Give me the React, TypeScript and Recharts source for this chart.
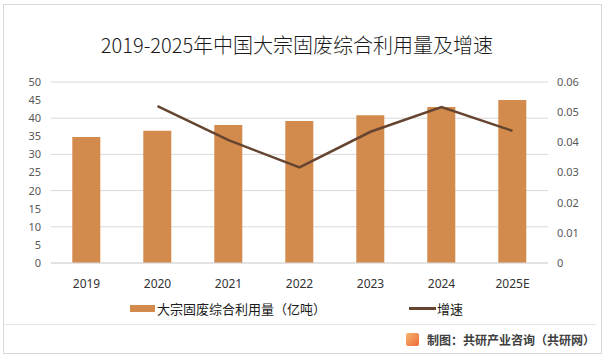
import React from 'react';
import { ComposedChart, Bar, Line, XAxis, YAxis, CartesianGrid } from 'recharts';

const years = ['2019', '2020', '2021', '2022', '2023', '2024', '2025E'];
const volume = [34.8, 36.5, 38.1, 39.2, 40.8, 43.1, 45.0];
const growth: (number | null)[] = [null, 0.052, 0.0407, 0.0317, 0.0435, 0.0517, 0.0438];
const leftTicks = [0, 5, 10, 15, 20, 25, 30, 35, 40, 45, 50];
const rightTicks = [0, 0.01, 0.02, 0.03, 0.04, 0.05, 0.06];

const title = '2019-2025年中国大宗固废综合利用量及增速';
const barName = '大宗固废综合利用量（亿吨）';
const lineName = '增速';
const footer = '制图：共研产业咨询（共研网）';

const data = years.map((y, i) => ({ year: y, volume: volume[i], growth: growth[i] }));

const BAR = '#D38B4D';
const LINE = '#654530';
const CJK = '"Noto Sans CJK SC", "Noto Sans", sans-serif';
const NUM = '"Noto Sans", "Liberation Sans", sans-serif';

export default function App() {
  return (
    <div style={{ position: 'absolute', left: 0, top: 0, width: 608, height: 359, background: '#fff', overflow: 'hidden' }}>
      <div style={{ position: 'absolute', left: 3, top: 4, width: 599, height: 350, border: '1px solid #d9d9d9', boxSizing: 'border-box' }} />
      <div style={{ position: 'absolute', left: 0, top: 30, width: 594, textAlign: 'center', fontFamily: CJK, fontSize: 20, color: '#1a1a1a', lineHeight: '30px', fontWeight: 300 }}>
        {title}
      </div>
      <div style={{ position: 'absolute', left: 0, top: 0 }}>
        <ComposedChart width={608} height={359} data={data} margin={{ top: 82, right: 0, bottom: 66, left: 0 }} barCategoryGap="30%">
          <CartesianGrid yAxisId="left" vertical={false} stroke="#d9d9d9" strokeWidth={1} />
          <XAxis dataKey="year" axisLine={{ stroke: '#d9d9d9' }} tickLine={false} height={30} tickMargin={10}
            tick={{ fill: '#333', fontSize: 12, fontFamily: NUM }} interval={0} />
          <YAxis yAxisId="left" domain={[0, 50]} ticks={leftTicks} width={51} axisLine={false} tickLine={false} tickMargin={4}
            tick={{ fill: '#595959', fontSize: 11, fontFamily: NUM }} />
          <YAxis yAxisId="right" orientation="right" domain={[0, 0.06]} ticks={rightTicks} width={60} axisLine={false} tickLine={false} tickMargin={3}
            tick={{ fill: '#595959', fontSize: 11, fontFamily: NUM }} />
          <Bar yAxisId="left" dataKey="volume" fill={BAR} isAnimationActive={false} />
          <Line yAxisId="right" dataKey="growth" stroke={LINE} strokeWidth={2.5} dot={false} activeDot={false} isAnimationActive={false} />
        </ComposedChart>
      </div>
      <div style={{ position: 'absolute', left: 130, top: 299, display: 'flex', alignItems: 'center', fontFamily: CJK, fontSize: 13, color: '#1a1a1a' }}>
        <span style={{ display: 'inline-block', width: 25, height: 7, background: BAR, marginRight: 2 }} />
        <span>{barName}</span>
      </div>
      <div style={{ position: 'absolute', left: 409, top: 299, display: 'flex', alignItems: 'center', fontFamily: CJK, fontSize: 13, color: '#1a1a1a' }}>
        <span style={{ display: 'inline-block', width: 27, height: 3, background: LINE, marginRight: 1 }} />
        <span>{lineName}</span>
      </div>
      <div style={{ position: 'absolute', left: 4, top: 324, width: 592, height: 1, background: '#e6e6e6' }} />
      <div style={{ position: 'absolute', left: 406, top: 331, display: 'flex', alignItems: 'center', fontFamily: CJK, fontSize: 12, fontWeight: 700, color: '#404040' }}>
        <span style={{ display: 'inline-block', width: 13, height: 13, borderRadius: 2, background: 'linear-gradient(135deg, #f8b56e, #ec6a3a)', marginRight: 8 }} />
        <span>{footer}</span>
      </div>
    </div>
  );
}
